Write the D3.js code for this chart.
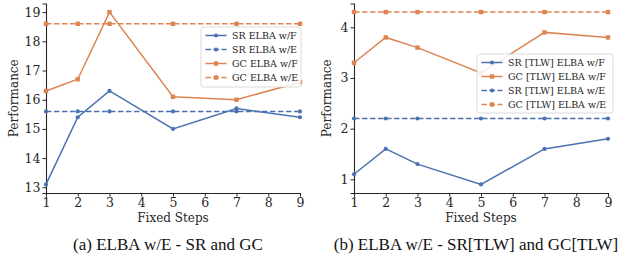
<!DOCTYPE html>
<html><head><meta charset="utf-8">
<script src="https://cdn.jsdelivr.net/npm/d3@7"></script>
<style>body{margin:0;background:#fff}svg{display:block}
.ser{font-family:'DejaVu Serif','Liberation Serif',serif}
.cap{font-family:'Liberation Serif','Times New Roman',serif}
</style>
</head><body>
<svg id="c" width="634" height="256"></svg>
<script>
const steps = [1, 2, 3, 5, 7, 9];
const xTicks = [1, 2, 3, 4, 5, 6, 7, 8, 9];
// Panel (a)
const srF = [13.1, 15.4, 16.3, 15.0, 15.7, 15.4];
const srE = [15.6, 15.6, 15.6, 15.6, 15.6, 15.6];
const gcF = [16.3, 16.7, 19.0, 16.1, 16.0, 16.6];
const gcE = [18.6, 18.6, 18.6, 18.6, 18.6, 18.6];
const yTicksA = [13, 14, 15, 16, 17, 18, 19];
// Panel (b)
const srTF = [1.1, 1.6, 1.3, 0.9, 1.6, 1.8];
const gcTF = [3.3, 3.8, 3.6, 3.1, 3.9, 3.8];
const srTE = [2.2, 2.2, 2.2, 2.2, 2.2, 2.2];
const gcTE = [4.3, 4.3, 4.3, 4.3, 4.3, 4.3];
const yTicksB = [1, 2, 3, 4];

const BLUE = "#4c72b0", ORANGE = "#dd8452";
const svg = d3.select("#c");

function panel(opt) {
  const g = svg.append("g");
  const all = opt.series.flatMap(s => s.values);
  const lo = d3.min(all), hi = d3.max(all), m = (hi - lo) * 0.05;
  const x = d3.scaleLinear().domain([1, 9]).range([opt.x0, opt.x1]);
  const y = d3.scaleLinear().domain([lo - m, hi + m]).range([opt.yb, opt.yt]);

  const xa = g.append("g").attr("transform", `translate(0,${opt.yb})`)
    .call(d3.axisBottom(x).tickValues(xTicks).tickFormat(d3.format("d")).tickSizeOuter(0).tickSize(3.5).tickPadding(2));
  const ya = g.append("g").attr("transform", `translate(${opt.x0},0)`)
    .call(d3.axisLeft(y).tickValues(opt.yTicks).tickFormat(d3.format("d")).tickSizeOuter(0).tickSize(3.5).tickPadding(2));
  [xa, ya].forEach(a => {
    a.attr("font-family", null).attr("font-size", null);
    a.selectAll("path.domain").attr("stroke", "#262626").attr("stroke-width", 1.1);
    a.selectAll(".tick line").attr("stroke", "#262626").attr("stroke-width", 1);
    a.selectAll("text").attr("class", "ser").attr("font-size", 12.5).attr("fill", "#262626");
  });

  const line = d3.line().x((d, i) => x(steps[i])).y(d => y(d));
  opt.series.forEach(s => {
    g.append("path").attr("d", line(s.values)).attr("fill", "none")
      .attr("stroke", s.color).attr("stroke-width", 1.5)
      .attr("stroke-dasharray", s.dash ? "5.5,2.5" : null);
    s.values.forEach((v, i) => {
      if (s.marker === "o") g.append("circle").attr("cx", x(steps[i])).attr("cy", y(v)).attr("r", 2.1).attr("fill", s.color);
      else g.append("rect").attr("x", x(steps[i]) - 2.2).attr("y", y(v) - 2.2).attr("width", 4.4).attr("height", 4.4).attr("fill", s.color);
    });
  });

  g.append("text").attr("class", "ser").attr("x", (opt.x0 + opt.x1) / 2).attr("y", opt.yb + 29)
    .attr("text-anchor", "middle").attr("font-size", 12).attr("fill", "#262626").text("Fixed Steps");
  g.append("text").attr("class", "ser").attr("transform", `translate(${opt.ylx},${(opt.yb + opt.yt) / 2}) rotate(-90)`)
    .attr("text-anchor", "middle").attr("font-size", 12).attr("fill", "#262626").text("Performance");
  g.append("text").attr("class", "cap").attr("x", opt.capX).attr("y", 250)
    .attr("text-anchor", "middle").attr("font-size", 17).attr("fill", "#111").text(opt.caption);

  // legend
  const L = opt.legend;
  g.append("rect").attr("x", L.x).attr("y", L.y).attr("width", L.w).attr("height", L.h)
    .attr("rx", 2.5).attr("fill", "rgba(255,255,255,0.85)").attr("stroke", "#d0d0d0").attr("stroke-width", 0.8);
  L.order.forEach((idx, k) => {
    const s = opt.series[idx];
    const ry = L.y + 8.5 + k * 14;
    const hx0 = L.x + 4.5, hx1 = hx0 + 21;
    g.append("line").attr("x1", hx0).attr("x2", hx1).attr("y1", ry).attr("y2", ry)
      .attr("stroke", s.color).attr("stroke-width", 1.5).attr("stroke-dasharray", s.dash ? "5.5,2.5" : null);
    const cx = (hx0 + hx1) / 2;
    if (s.marker === "o") g.append("circle").attr("cx", cx).attr("cy", ry).attr("r", 2.1).attr("fill", s.color);
    else g.append("rect").attr("x", cx - 2.2).attr("y", ry - 2.2).attr("width", 4.4).attr("height", 4.4).attr("fill", s.color);
    g.append("text").attr("class", "ser").attr("x", L.x + 31).attr("y", ry + 3.5).attr("font-size", 9.5)
      .attr("fill", "#262626").text(s.name);
  });
}

panel({
  x0: 46, x1: 300, yt: 3.5, yb: 193, ylx: 18, yTicks: yTicksA, capX: 168,
  caption: "(a) ELBA w/E - SR and GC",
  series: [
    {name: "SR ELBA w/F", values: srF, color: BLUE, marker: "o", dash: false},
    {name: "SR ELBA w/E", values: srE, color: BLUE, marker: "o", dash: true},
    {name: "GC ELBA w/F", values: gcF, color: ORANGE, marker: "s", dash: false},
    {name: "GC ELBA w/E", values: gcE, color: ORANGE, marker: "s", dash: true}
  ],
  legend: {x: 201, y: 27, w: 100, h: 60, order: [0, 1, 2, 3]}
});
panel({
  x0: 354, x1: 608, yt: 3.5, yb: 193, ylx: 331, yTicks: yTicksB, capX: 476,
  caption: "(b) ELBA w/E - SR[TLW] and GC[TLW]",
  series: [
    {name: "SR [TLW] ELBA w/F", values: srTF, color: BLUE, marker: "o", dash: false},
    {name: "GC [TLW] ELBA w/F", values: gcTF, color: ORANGE, marker: "s", dash: false},
    {name: "SR [TLW] ELBA w/E", values: srTE, color: BLUE, marker: "o", dash: true},
    {name: "GC [TLW] ELBA w/E", values: gcTE, color: ORANGE, marker: "s", dash: true}
  ],
  legend: {x: 477, y: 54, w: 136, h: 59, order: [0, 1, 2, 3]}
});
</script>
</body></html>
